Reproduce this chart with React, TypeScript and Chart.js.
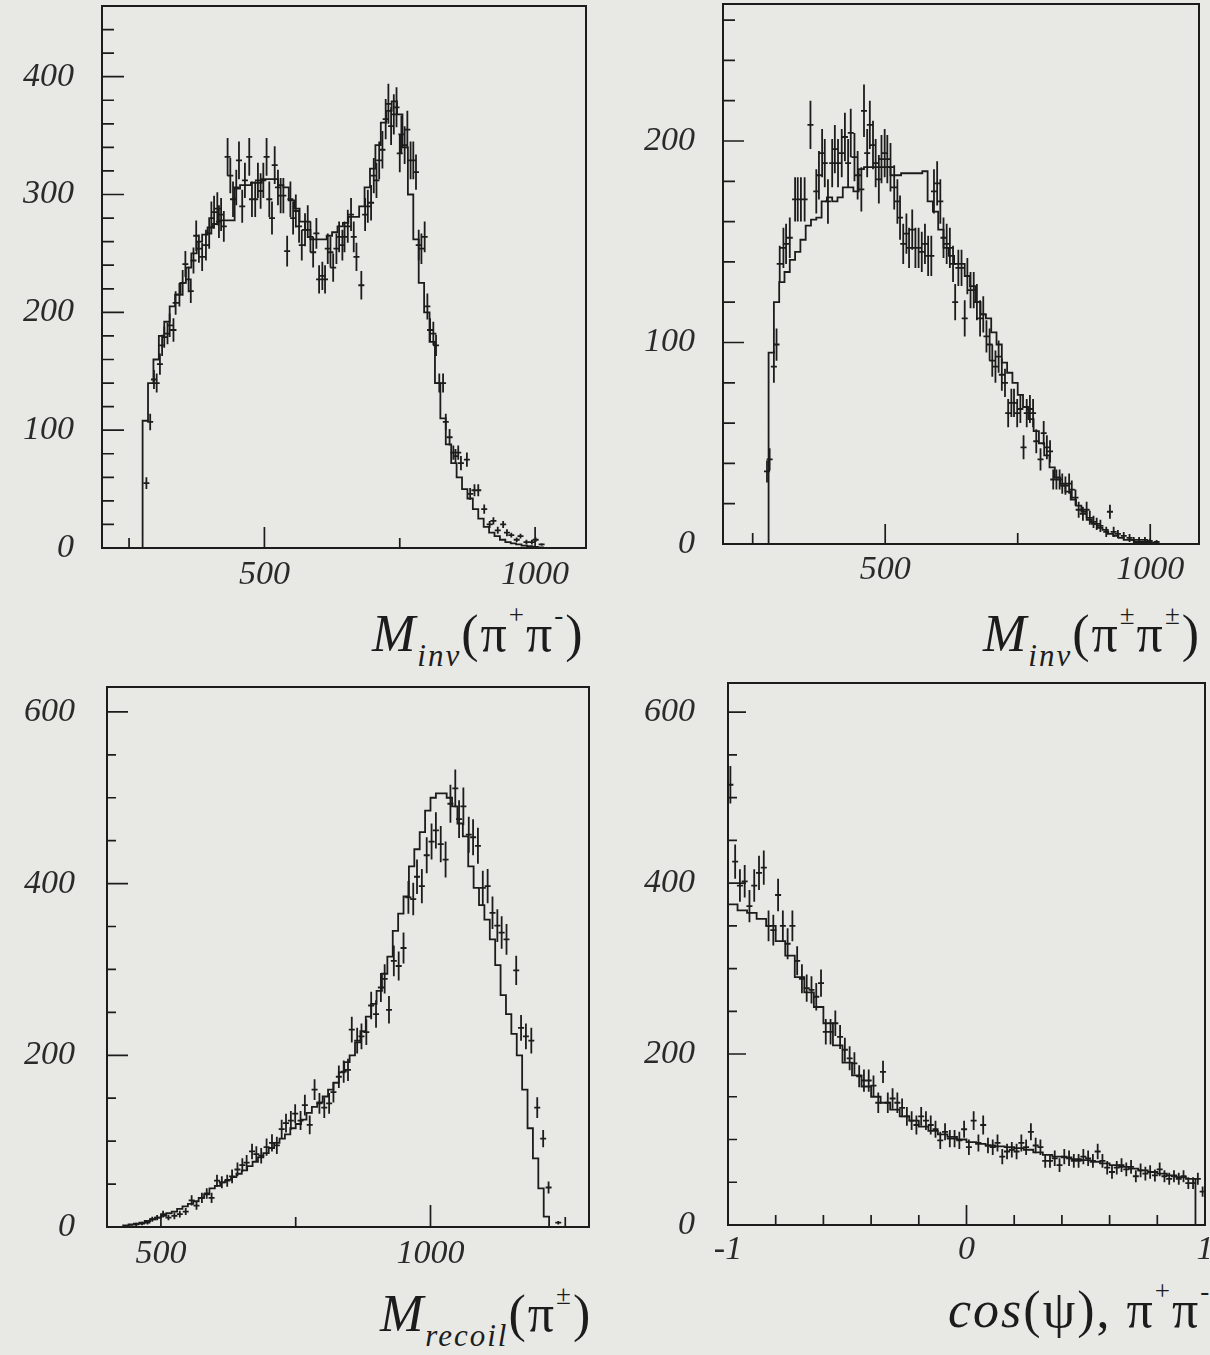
import React, { useEffect, useRef } from 'react';
import { Chart, registerables } from 'chart.js';

Chart.register(...registerables);

const INK = '#1c1c1c';
const LABEL = '#2a2a2a';
const SERIF = "'Liberation Serif', 'Times New Roman', serif";
const PAGE_BG = '#e8e8e5';

// ---------------- Panel 1 : M_inv(pi+ pi-) ----------------
const p1HistStart = 275;
const p1HistWidth = 10;
const p1Hist = [
  70, 108, 140, 160, 180, 192, 205, 215, 225, 238,
  250, 260, 266, 272, 275, 278, 278, 278, 305, 308,
  308, 310, 310, 313, 313, 313, 308, 306, 295, 288,
  277, 270, 262, 262, 262, 265, 268, 273, 276, 281,
  281, 290, 306, 322, 342, 361, 371, 379, 368, 340,
  300, 262, 225, 200, 175, 140, 110, 88, 72, 60,
  50, 42, 33, 25, 18, 13, 10, 7, 5, 4,
  3, 2, 1.5, 1, 0.5,
];
const p1X = [
  282, 289, 296, 301, 307, 311, 315, 321, 325, 332,
  336, 343, 349, 354, 360, 364, 369, 374, 379, 385,
  392, 398, 402, 407, 413, 416, 420, 425, 432, 437,
  442, 448, 453, 459, 464, 472, 477, 483, 488, 493,
  498, 504, 509, 514, 519, 525, 530, 535, 542, 548,
  553, 558, 564, 569, 575, 580, 585, 590, 596, 601,
  607, 612, 617, 622, 627, 633, 638, 644, 648, 654,
  660, 665, 670, 679, 686, 691, 697, 702, 707, 712,
  718, 724, 729, 734, 739, 744, 750, 753, 759, 764,
  770, 775, 780, 785, 790, 796, 801, 806, 812, 817,
  823, 830, 835, 842, 849, 853, 858, 863, 874, 880,
  888, 895, 906, 916, 923, 931, 941, 948, 956, 966,
  973, 984, 994, 1001, 1012,
];
const p1Y = [
  55, 107, 143, 140, 156, 172, 179, 182, 189, 185,
  208, 215, 225, 241, 228, 218, 244, 265, 254, 247,
  257, 267, 280, 285, 288, 277, 283, 273, 332, 316,
  296, 306, 329, 290, 312, 332, 296, 296, 312, 303,
  312, 332, 296, 280, 325, 306, 299, 299, 252, 296,
  280, 286, 273, 257, 270, 277, 264, 251, 267, 228,
  231, 228, 254, 251, 238, 254, 264, 257, 264, 273,
  283, 264, 247, 223, 283, 290, 293, 316, 312, 329,
  338, 364, 377, 358, 368, 374, 335, 351, 342, 355,
  329, 329, 319, 257, 254, 264, 205, 185, 182, 172,
  140, 140, 107, 94, 81, 78, 81, 72, 75, 46,
  49, 49, 33, 20, 23, 15, 20, 13, 11, 7,
  10, 5, 5, 7, 3,
];
const p1Err = [
  5, 7, 8, 8, 9, 9, 9, 9, 10, 10,
  10, 10, 11, 11, 11, 10, 11, 13, 12, 12,
  13, 13, 14, 14, 14, 14, 14, 13, 16, 15,
  15, 15, 16, 14, 15, 16, 15, 15, 15, 15,
  15, 16, 15, 14, 16, 15, 15, 15, 13, 15,
  14, 14, 14, 13, 14, 14, 13, 13, 13, 12,
  12, 12, 13, 13, 12, 13, 13, 13, 13, 14,
  14, 13, 12, 12, 14, 14, 15, 15, 15, 16,
  16, 17, 17, 16, 17, 17, 16, 16, 16, 16,
  16, 16, 15, 13, 13, 13, 11, 10, 10, 9,
  8, 8, 7, 7, 6, 6, 6, 6, 6, 5,
  5, 5, 4, 3, 3, 3, 3, 3, 2, 2,
  2, 2, 2, 2, 1,
];
const p1XLabels = [500, 1000];
const p1YLabels = [0, 100, 200, 300, 400];
const p1XTicks = [250, 500, 750, 1000];
const p1XLong = [500, 1000];
const p1YTicks = [0, 20, 40, 60, 80, 100, 120, 140, 160, 180, 200, 220, 240, 260, 280, 300, 320, 340, 360, 380, 400, 420, 440];

// ---------------- Panel 2 : M_inv(pi± pi±) ----------------
const p2HistStart = 280;
const p2HistWidth = 10;
const p2Hist = [
  42, 95, 120, 130, 135, 141, 145, 151, 158, 161,
  162, 170, 172, 170, 172, 177, 177, 175, 186, 187,
  187, 187, 187, 187, 183, 183, 184, 184, 184, 184,
  185, 170, 165, 156, 147, 143, 139, 139, 133, 128,
  120, 114, 112, 105, 99, 90, 85, 80, 74, 68,
  62, 56, 50, 44, 38, 33, 29, 26, 22, 19,
  16, 12, 10, 8, 7, 5, 4, 3, 2, 2,
  1, 1, 1, 0.5,
];
const p2X = [
  277, 282, 290, 295, 301, 308, 313, 320, 330, 335,
  341, 348, 359, 370, 375, 381, 386, 392, 400, 405,
  411, 418, 424, 430, 435, 442, 448, 455, 460, 466,
  471, 477, 482, 488, 493, 499, 504, 510, 517, 523,
  528, 534, 540, 545, 551, 557, 563, 569, 575, 581,
  587, 592, 598, 604, 610, 616, 622, 628, 632, 638,
  644, 650, 655, 661, 667, 673, 679, 685, 691, 697,
  702, 708, 714, 720, 726, 732, 738, 743, 749, 755,
  761, 767, 773, 779, 785, 793, 799, 805, 811, 817,
  823, 829, 834, 840, 847, 852, 859, 865, 873, 880,
  886, 893, 899, 906, 917, 924, 931, 939, 950, 961,
  969, 979, 990, 999, 1012,
];
const p2Y = [
  36, 42, 88, 99, 139, 147, 149, 152, 171, 171,
  171, 171, 208, 175, 183, 194, 189, 170, 189, 196,
  189, 194, 202, 189, 204, 192, 183, 176, 215, 194,
  208, 198, 189, 181, 191, 194, 191, 187, 177, 170,
  162, 149, 154, 147, 156, 147, 147, 145, 149, 143,
  143, 175, 179, 170, 152, 149, 147, 139, 120, 137,
  137, 112, 133, 126, 126, 120, 112, 114, 103, 99,
  91, 88, 93, 84, 80, 65, 70, 70, 65, 67,
  48, 65, 67, 65, 51, 42, 55, 48, 46, 32,
  32, 32, 30, 29, 30, 27, 23, 17, 15, 17,
  13, 11, 10, 9, 6, 16, 6, 5, 4, 3,
  2, 2, 2, 1.5, 1,
];
const p2Err = [
  5.5, 5.5, 8, 8, 9, 10, 10, 10, 11, 11,
  11, 11, 12, 11, 12, 12, 12, 11, 12, 12,
  12, 12, 12, 12, 12, 12, 12, 11, 13, 12,
  12, 12, 12, 12, 12, 12, 12, 12, 11, 11,
  11, 10, 10, 10, 10, 10, 10, 10, 10, 10,
  10, 11, 11, 11, 10, 10, 10, 9, 9, 9,
  9, 9, 9, 9, 9, 9, 9, 9, 8, 8,
  8, 8, 8, 8, 7, 7, 7, 7, 7, 7,
  6, 7, 7, 7, 6, 5.5, 6, 6, 5.5, 5,
  5, 5, 5, 4.5, 5, 4.5, 4, 4, 3.5, 4,
  3.5, 3, 3, 3, 2.5, 3.5, 2.5, 2, 2, 2,
  1.5, 1.5, 1.5, 1, 1,
];
const p2XLabels = [500, 1000];
const p2YLabels = [0, 100, 200];
const p2XTicks = [250, 500, 750, 1000];
const p2XLong = [500, 1000];
const p2YTicks = [0, 20, 40, 60, 80, 100, 120, 140, 160, 180, 200, 220, 240, 260];

// ---------------- Panel 3 : M_recoil(pi±) ----------------
const p3HistStart = 430;
const p3HistWidth = 10;
const p3Hist = [
  1, 2, 3, 4, 5, 7, 9, 11, 13, 16,
  18, 21, 24, 27, 30, 34, 38, 45, 48, 52,
  55, 58, 62, 66, 71, 76, 81, 86, 92, 98,
  103, 108, 115, 120, 125, 133, 140, 145, 152, 160,
  168, 180, 192, 200, 215, 228, 245, 260, 275, 295,
  315, 345, 365, 385, 420, 440, 460, 485, 500, 505,
  505, 500, 490, 470, 455, 420, 395, 375, 358, 335,
  305, 270, 248, 225, 200, 160, 115, 80, 45, 12,
];
const p3X = [
  443, 454, 465, 475, 484, 493, 504, 514, 525, 535,
  546, 557, 566, 576, 585, 594, 604, 613, 623, 632,
  642, 651, 659, 669, 677, 686, 696, 706, 715, 724,
  732, 741, 749, 759, 767, 776, 785, 794, 803, 812,
  820, 830, 839, 847, 854, 864, 872, 881, 890, 899,
  908, 915, 923, 932, 941, 950, 959, 968, 975, 984,
  993, 1002, 1010, 1019, 1028, 1037, 1046, 1053, 1061, 1071,
  1079, 1088, 1097, 1106, 1115, 1124, 1132, 1141, 1159, 1168,
  1177, 1187, 1198, 1209, 1219, 1237,
];
const p3Y = [
  1, 3, 4, 5, 9, 11, 15, 11, 13, 15,
  18, 31, 25, 34, 39, 34, 54, 52, 54, 59,
  67, 72, 75, 88, 85, 83, 93, 98, 95, 114,
  121, 124, 132, 124, 142, 119, 160, 144, 139, 144,
  157, 175, 181, 183, 230, 217, 222, 227, 258, 248,
  279, 289, 253, 310, 304, 325, 384, 382, 408, 397,
  433, 449, 462, 446, 428, 493, 511, 475, 490, 457,
  454, 444, 395, 397, 366, 351, 343, 335, 299, 232,
  222, 217, 139, 103, 46, 5,
];
const p3Err = [
  1, 2, 2, 2, 3, 3, 4, 3, 4, 4,
  4, 6, 5, 6, 6, 6, 7, 7, 7, 8,
  8, 8, 9, 9, 9, 9, 10, 10, 10, 11,
  11, 11, 11, 11, 12, 11, 12, 12, 12, 12,
  12, 13, 13, 13, 15, 15, 15, 15, 16, 16,
  17, 17, 16, 18, 17, 18, 19, 19, 20, 20,
  21, 21, 21, 21, 21, 22, 22, 22, 22, 21,
  21, 21, 20, 20, 19, 19, 19, 18, 17, 15,
  15, 15, 12, 10, 7, 2,
];
const p3XLabels = [500, 1000];
const p3YLabels = [0, 200, 400, 600];
const p3XTicks = [500, 750, 1000, 1250];
const p3XLong = [1000];
const p3YTicks = [0, 50, 100, 150, 200, 250, 300, 350, 400, 450, 500, 550, 600];

// ---------------- Panel 4 : cos(psi), pi+ pi- ----------------
const p4HistStart = -1;
const p4HistWidth = 0.04;
const p4Hist = [
  420, 375, 368, 365, 358, 350, 332, 315, 290, 272,
  255, 236, 210, 190, 175, 162, 150, 143, 135, 127,
  122, 115, 110, 106, 103, 100, 97, 95, 93, 92,
  91, 90, 88, 85, 82, 80, 79, 77, 76, 74,
  72, 70, 68, 66, 64, 62, 60, 58, 56, 54,
];
const p4X = [
  -0.99, -0.97, -0.95, -0.93, -0.91, -0.89, -0.87, -0.85, -0.83, -0.81,
  -0.79, -0.77, -0.75, -0.73, -0.71, -0.69, -0.67, -0.65, -0.63, -0.61,
  -0.59, -0.57, -0.55, -0.53, -0.51, -0.49, -0.47, -0.45, -0.43, -0.41,
  -0.39, -0.37, -0.35, -0.33, -0.31, -0.29, -0.27, -0.25, -0.23, -0.21,
  -0.19, -0.17, -0.15, -0.13, -0.11, -0.09, -0.07, -0.05, -0.03, -0.01,
  0.01, 0.03, 0.05, 0.07, 0.09, 0.11, 0.13, 0.15, 0.17, 0.19,
  0.21, 0.23, 0.25, 0.27, 0.29, 0.31, 0.33, 0.35, 0.37, 0.39,
  0.41, 0.43, 0.45, 0.47, 0.49, 0.51, 0.53, 0.55, 0.57, 0.59,
  0.61, 0.63, 0.65, 0.67, 0.69, 0.71, 0.73, 0.75, 0.77, 0.79,
  0.81, 0.83, 0.85, 0.87, 0.89, 0.91, 0.93, 0.95, 0.97, 0.99,
];
const p4Y = [
  515, 425, 397, 402, 373, 397, 412, 418, 350, 345,
  386, 350, 329, 350, 309, 288, 277, 275, 267, 283,
  226, 226, 236, 220, 205, 195, 189, 174, 169, 169,
  163, 143, 179, 143, 148, 143, 137, 127, 122, 117,
  127, 122, 117, 112, 99, 109, 101, 101, 99, 112,
  91, 122, 96, 117, 93, 91, 96, 80, 86, 88,
  86, 96, 91, 109, 93, 91, 75, 75, 78, 70,
  80, 78, 75, 75, 80, 78, 75, 86, 75, 67,
  62, 67, 70, 65, 68, 57, 64, 60, 62, 58,
  65, 57, 54, 57, 54, 57, 49, 49, 54, 39,
];
const p4Err = [
  22, 20, 19, 19, 19, 19, 20, 20, 18, 18,
  19, 18, 18, 18, 17, 17, 16, 16, 16, 16,
  15, 15, 15, 14, 14, 14, 13, 13, 13, 13,
  12, 12, 13, 12, 12, 12, 11, 11, 11, 11,
  11, 11, 11, 10, 10, 10, 10, 10, 10, 10,
  9, 11, 10, 11, 9, 9, 10, 9, 9, 9,
  9, 10, 9, 10, 9, 9, 8, 8, 9, 8,
  9, 9, 8, 8, 9, 9, 8, 9, 8, 8,
  8, 8, 8, 8, 8, 7, 8, 8, 8, 7,
  8, 7, 7, 7, 7, 7, 7, 7, 7, 6,
];
const p4XLabels = [-1, 0, 1];
const p4YLabels = [0, 200, 400, 600];
const p4XTicks = [-0.8, -0.6, -0.4, -0.2, 0, 0.2, 0.4, 0.6, 0.8];
const p4XLong = [0];
const p4YTicks = [0, 50, 100, 150, 200, 250, 300, 350, 400, 450, 500, 550, 600];

// ---------------- layout (canvas placement, axis ranges, tick styling) ----------------
const PANELS = [
  {
    left: 2, top: 2, w: 588, h: 596, xMin: 200, xMax: 1094, yMax: 460,
    hist: [p1HistStart, p1HistWidth, p1Hist], xs: p1X, ys: p1Y, errs: p1Err,
    xLabels: p1XLabels, yLabels: p1YLabels, xTicks: p1XTicks, xLong: p1XLong, yTicks: p1YTicks,
    yPad: 28, xPad: 10, yLongLen: 22, yShortLen: 12, xLongLen: 21, xShortLen: 10,
  },
  {
    left: 623, top: 0, w: 580, h: 594, xMin: 194, xMax: 1092, yMax: 268,
    hist: [p2HistStart, p2HistWidth, p2Hist], xs: p2X, ys: p2Y, errs: p2Err,
    xLabels: p2XLabels, yLabels: p2YLabels, xTicks: p2XTicks, xLong: p2XLong, yTicks: p2YTicks,
    yPad: 28, xPad: 9, yLongLen: 21, yShortLen: 12, xLongLen: 20, xShortLen: 11,
  },
  {
    left: 7, top: 683, w: 586, h: 594, xMin: 400, xMax: 1294, yMax: 629,
    hist: [p3HistStart, p3HistWidth, p3Hist], xs: p3X, ys: p3Y, errs: p3Err,
    xLabels: p3XLabels, yLabels: p3YLabels, xTicks: p3XTicks, xLong: p3XLong, yTicks: p3YTicks,
    yPad: 32, xPad: 10, yLongLen: 21, yShortLen: 9, xLongLen: 22, xShortLen: 10,
  },
  {
    left: 628, top: 679, w: 581, h: 596, xMin: -1, xMax: 1, yMax: 634,
    hist: [p4HistStart, p4HistWidth, p4Hist], xs: p4X, ys: p4Y, errs: p4Err,
    xLabels: p4XLabels, yLabels: p4YLabels, xTicks: p4XTicks, xLong: p4XLong, yTicks: p4YTicks,
    yPad: 33, xPad: 8, yLongLen: 18, yShortLen: 9, xLongLen: 20, xShortLen: 10,
  },
];

const Y_AXIS_W = 100;
const X_AXIS_H = 50;

const frameTicksPlugin = {
  id: 'frameTicks',
  afterDatasetsDraw(chart: any, _args: any, opts: any) {
    const { ctx, chartArea: a, scales } = chart;
    ctx.save();
    ctx.strokeStyle = INK;
    ctx.lineWidth = 2;
    ctx.strokeRect(a.left, a.top, a.right - a.left, a.bottom - a.top);
    ctx.lineWidth = 1.7;
    ctx.beginPath();
    (opts.yTicks || []).forEach((v: number) => {
      const y = scales.y.getPixelForValue(v);
      const len = opts.yLong.includes(v) ? opts.yLongLen : opts.yShortLen;
      ctx.moveTo(a.left, y);
      ctx.lineTo(a.left + len, y);
    });
    (opts.xTicks || []).forEach((v: number) => {
      const x = scales.x.getPixelForValue(v);
      const len = opts.xLong.includes(v) ? opts.xLongLen : opts.xShortLen;
      ctx.moveTo(x, a.bottom);
      ctx.lineTo(x, a.bottom - len);
    });
    ctx.stroke();
    ctx.restore();
  },
};

const errorBarPlugin = {
  id: 'errorBars',
  afterDatasetsDraw(chart: any) {
    const { ctx, scales, chartArea: a } = chart;
    chart.data.datasets.forEach((ds: any, i: number) => {
      const errs: number[] | undefined = ds.errorBars;
      if (!errs) return;
      const meta = chart.getDatasetMeta(i);
      ctx.save();
      ctx.beginPath();
      ctx.rect(a.left, a.top, a.right - a.left, a.bottom - a.top);
      ctx.clip();
      ctx.strokeStyle = INK;
      ctx.lineWidth = 1.8;
      ctx.beginPath();
      meta.data.forEach((pt: any, j: number) => {
        const raw = ds.data[j];
        const e = errs[j] ?? 0;
        const yTop = scales.y.getPixelForValue(raw.y + e);
        const yBot = scales.y.getPixelForValue(Math.max(0, raw.y - e));
        ctx.moveTo(pt.x, yTop);
        ctx.lineTo(pt.x, yBot);
        ctx.moveTo(pt.x - 3, pt.y);
        ctx.lineTo(pt.x + 3, pt.y);
      });
      ctx.stroke();
      ctx.restore();
    });
  },
};

function histPoints(start: number, width: number, values: number[]) {
  const pts = [{ x: start, y: 0 }];
  values.forEach((v, i) => pts.push({ x: start + i * width, y: v }));
  pts.push({ x: start + values.length * width, y: 0 });
  return pts;
}

function makeConfig(p: any): any {
  const [hs, hw, hv] = p.hist;
  const n = Math.min(p.xs.length, p.ys.length);
  const points = [];
  for (let i = 0; i < n; i++) points.push({ x: p.xs[i], y: p.ys[i] });
  const tickFont = { family: SERIF, size: 34, style: 'italic' as const, lineHeight: 1 };
  return {
    type: 'line',
    data: {
      datasets: [
        {
          data: histPoints(hs, hw, hv),
          borderColor: INK,
          borderWidth: 1.8,
          stepped: 'after',
          pointRadius: 0,
          fill: false,
          tension: 0,
        },
        {
          data: points,
          showLine: false,
          pointRadius: 0,
          borderColor: INK,
          errorBars: p.errs,
        },
      ],
    },
    options: {
      animation: false,
      responsive: false,
      devicePixelRatio: 1,
      events: [],
      layout: { padding: { left: 0, right: 4, top: 4, bottom: 0 } },
      plugins: {
        legend: { display: false },
        tooltip: { enabled: false },
        frameTicks: {
          xTicks: p.xTicks, xLong: p.xLong, yTicks: p.yTicks, yLong: p.yLabels,
          yLongLen: p.yLongLen, yShortLen: p.yShortLen, xLongLen: p.xLongLen, xShortLen: p.xShortLen,
        },
      },
      scales: {
        x: {
          type: 'linear',
          min: p.xMin,
          max: p.xMax,
          afterBuildTicks: (s: any) => {
            s.ticks = p.xLabels.map((v: number) => ({ value: v }));
          },
          afterFit: (s: any) => {
            s.height = X_AXIS_H;
            s.paddingLeft = 0;
            s.paddingRight = 0;
          },
          grid: { display: false, drawTicks: false },
          border: { display: false },
          ticks: {
            font: tickFont,
            color: LABEL,
            padding: p.xPad,
            autoSkip: false,
            maxRotation: 0,
            minRotation: 0,
            callback: (v: any) => String(v),
          },
        },
        y: {
          type: 'linear',
          min: 0,
          max: p.yMax,
          afterBuildTicks: (s: any) => {
            s.ticks = p.yLabels.map((v: number) => ({ value: v }));
          },
          afterFit: (s: any) => {
            s.width = Y_AXIS_W;
            s.paddingTop = 0;
            s.paddingBottom = 0;
          },
          grid: { display: false, drawTicks: false },
          border: { display: false },
          ticks: {
            font: tickFont,
            color: LABEL,
            padding: p.yPad,
            autoSkip: false,
            callback: (v: any) => String(v),
          },
        },
      },
    },
    plugins: [frameTicksPlugin, errorBarPlugin],
  };
}

function Panel({ spec }: { spec: any }) {
  const ref = useRef<HTMLCanvasElement | null>(null);
  useEffect(() => {
    if (!ref.current) return;
    const chart = new Chart(ref.current, makeConfig(spec));
    return () => chart.destroy();
  }, [spec]);
  return (
    <canvas
      ref={ref}
      width={spec.w}
      height={spec.h}
      style={{ position: 'absolute', left: spec.left, top: spec.top, width: spec.w, height: spec.h }}
    />
  );
}

const titleBase: React.CSSProperties = {
  position: 'absolute',
  fontFamily: SERIF,
  fontSize: 52,
  lineHeight: '52px',
  letterSpacing: 2,
  whiteSpace: 'nowrap',
  color: INK,
};
const subStyle: React.CSSProperties = { fontSize: 31, fontStyle: 'italic', position: 'relative', top: 15 };
const supStyle: React.CSSProperties = { fontSize: 27, position: 'relative', top: -27 };

export default function App() {
  return (
    <div
      style={{
        position: 'absolute',
        left: 0,
        top: 0,
        width: 1210,
        height: 1355,
        background: PAGE_BG,
        overflow: 'hidden',
      }}
    >
      {PANELS.map((p, i) => (
        <Panel key={i} spec={p} />
      ))}
      <div style={{ ...titleBase, left: 372, top: 608 }}>
        <i>M</i>
        <span style={subStyle}>inv</span>(π<span style={supStyle}>+</span>π<span style={supStyle}>-</span>)
      </div>
      <div style={{ ...titleBase, left: 983, top: 608 }}>
        <i>M</i>
        <span style={subStyle}>inv</span>(π<span style={supStyle}>±</span>π<span style={supStyle}>±</span>)
      </div>
      <div style={{ ...titleBase, left: 380, top: 1288 }}>
        <i>M</i>
        <span style={subStyle}>recoil</span>(π<span style={supStyle}>±</span>)
      </div>
      <div style={{ ...titleBase, left: 948, top: 1284 }}>
        <i>cos</i>(ψ), π<span style={supStyle}>+</span>π<span style={supStyle}>-</span>
      </div>
    </div>
  );
}
